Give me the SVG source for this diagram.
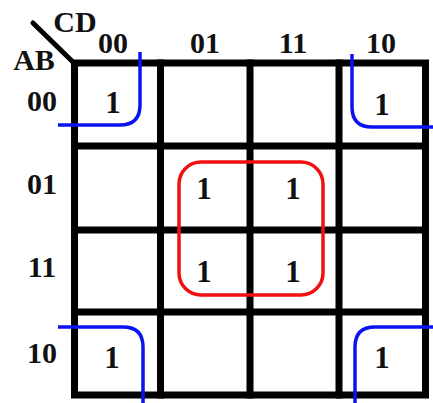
<svg xmlns="http://www.w3.org/2000/svg" width="433" height="403" viewBox="0 0 433 403">
<style>
text{font-family:"Liberation Serif","Times New Roman",serif;font-weight:bold;fill:#111;}
.lbl{font-size:30px;text-anchor:middle;}
.one{font-size:31px;text-anchor:middle;}
.grid{stroke:#000;stroke-width:7;fill:none;stroke-linecap:square;}
.blue{stroke:#0a14f0;stroke-width:3.5;fill:none;}
.red{stroke:#f01010;stroke-width:3.5;fill:none;}
</style>
<rect width="433" height="403" fill="#fff"/>
<g id="grid">
<line class="grid" x1="33" y1="23" x2="74" y2="63" style="stroke-linecap:round;stroke-width:5"/>
<rect class="grid" x="74.5" y="63" width="351" height="332"/>
<line class="grid" x1="160.5" y1="63" x2="160.5" y2="395"/>
<line class="grid" x1="250" y1="63" x2="250" y2="395"/>
<line class="grid" x1="339" y1="63" x2="339" y2="395"/>
<line class="grid" x1="74.5" y1="146" x2="425.5" y2="146"/>
<line class="grid" x1="74.5" y1="230" x2="425.5" y2="230"/>
<line class="grid" x1="74.5" y1="312" x2="425.5" y2="312"/>
</g>
<g id="labels">
<text x="75" y="32" class="lbl">CD</text>
<text x="34" y="70" class="lbl">AB</text>
<text x="113" y="53" class="lbl">00</text>
<text x="205" y="53" class="lbl">01</text>
<text x="293" y="53" class="lbl">11</text>
<text x="381" y="53" class="lbl">10</text>
<text x="42" y="111" class="lbl">00</text>
<text x="42" y="194" class="lbl">01</text>
<text x="42" y="277" class="lbl">11</text>
<text x="42" y="363" class="lbl">10</text>
</g>
<g id="cells">
<text x="113" y="113" class="one">1</text>
<text x="382" y="115" class="one">1</text>
<text x="204" y="199" class="one">1</text>
<text x="293" y="199" class="one">1</text>
<text x="204" y="282" class="one">1</text>
<text x="293" y="282" class="one">1</text>
<text x="112" y="368" class="one">1</text>
<text x="382" y="368" class="one">1</text>
</g>
<g id="groups">
<path class="blue" d="M140 52 V105 Q140 125 120 125 H58"/>
<path class="blue" d="M352 54 V107 Q352 127 372 127 H433"/>
<path class="blue" d="M58 327 H123 Q143 327 143 347 V403"/>
<path class="blue" d="M433 327 H375 Q355 327 355 347 V403"/>
<rect class="red" x="179" y="162" width="144" height="133" rx="22" ry="22"/>
</g>
</svg>
